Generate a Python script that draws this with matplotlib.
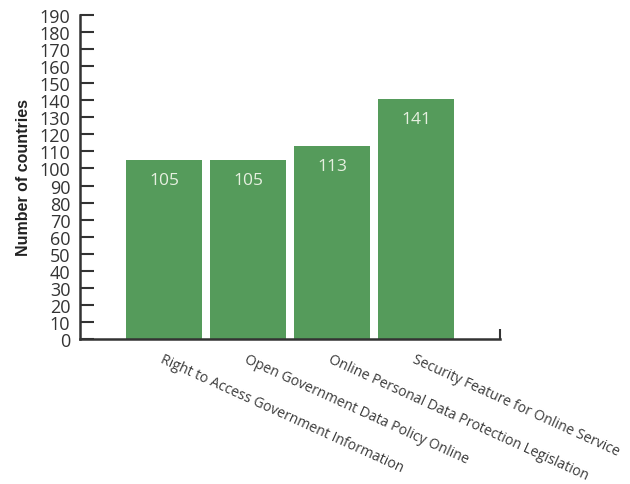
import matplotlib
matplotlib.use('Agg')

import numpy as np
import matplotlib.pyplot as plt

categories = ['Right to Access Government Information',
              'Open Government Data Policy Online',
              'Online Personal Data Protection Legislation',
              'Security Feature for Online Service']
countries = [105, 105, 113, 141]
yticks = list(range(0, 200, 10))

fig = plt.figure(figsize=(6.3, 4.85), dpi=100)
ax = fig.add_axes([0.127, 0.299, 0.667, 0.668])

x = np.arange(len(categories))
bars = ax.bar(x, countries, width=0.9, color='#559b5b')

for b, v in zip(bars, countries):
    ax.annotate(str(v), (b.get_x() + b.get_width() / 2, v),
                xytext=(0, -20), textcoords='offset pixels',
                ha='center', va='center', fontsize=12.5, color='#e6f0e0',
                family='Open Sans')

ax.set_xlim(-1, 4)
ax.set_ylim(0, 190)
ax.set_yticks(yticks)
ax.set_yticklabels([str(t) for t in yticks], family='Open Sans',
                   fontsize=13, color='#333333')
ax.tick_params(axis='y', direction='in', length=10, width=1.5, pad=7, color='#333333')

ax.set_xticks(x)
ax.set_xticklabels(categories, rotation=-24.5, ha='left', rotation_mode='anchor',
                   family='Open Sans', fontsize=10.1, color='#3a3a3a')
ax.tick_params(axis='x', length=0, pad=9)
# small upturned tick at the right end of the baseline
ax.set_xticks([4], minor=True)
ax.tick_params(axis='x', which='minor', direction='in', length=7, width=1.5, color='#333333')

for side in ['top', 'right']:
    ax.spines[side].set_visible(False)
for side in ['left', 'bottom']:
    ax.spines[side].set_linewidth(1.8)
    ax.spines[side].set_color('#333333')

ax.set_ylabel('Number of countries', fontsize=11.5, fontweight='bold',
              family='Liberation Sans', color='#222222', labelpad=6)

fig.savefig('out.png', dpi=100)
